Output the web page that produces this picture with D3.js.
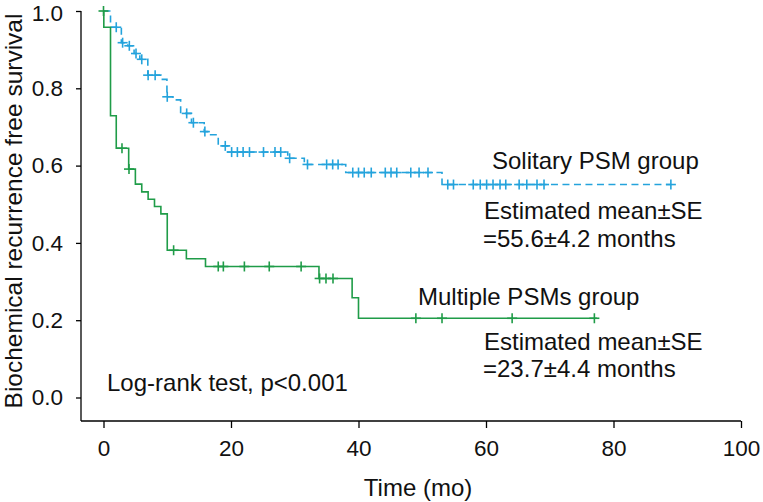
<!DOCTYPE html>
<html><head><meta charset="utf-8">
<script src="https://cdn.jsdelivr.net/npm/d3@7"></script>
<style>
html,body{margin:0;padding:0;background:#fff;}
svg{display:block;font-family:"Liberation Sans",Arial,sans-serif;}
</style></head>
<body><svg id="c" width="763" height="502"></svg>
<script>
// ---- data ----
const xTicks = [0, 20, 40, 60, 80, 100];
const yTicks = [0.0, 0.2, 0.4, 0.6, 0.8, 1.0];

// Solitary PSM group (blue, dashed)
const soloEventTimes = [1.1, 2.8, 3.8, 4.8, 5.7, 6.95, 9.0, 9.95, 10.9, 12.1, 13.8, 15.8, 16.6, 18.0, 19.5, 28.9, 31.5, 38.0, 53.1];
const soloSurv       = [0.958, 0.918, 0.910, 0.890, 0.875, 0.834, 0.823, 0.778, 0.770, 0.735, 0.711, 0.688, 0.680, 0.651, 0.635, 0.619, 0.603, 0.582, 0.551];
const soloCensor     = [2.0, 3.0, 4.05, 5.1, 6.0, 7.0, 8.1, 10.0, 13.05, 14.1, 15.9, 19.1, 20.1, 21.0, 21.9, 22.9, 25.1, 26.9, 27.8, 29.2, 32.0, 35.0, 35.95, 36.8, 39.1, 40.0, 40.9, 42.0, 44.2, 45.1, 46.0, 48.2, 49.5, 50.9, 54.0, 54.9, 58.0, 59.1, 60.1, 61.1, 62.2, 63.1, 65.2, 66.4, 68.0, 69.1, 89.0];
const soloEnd = 89.0;

// Multiple PSMs group (green, solid)
const multiEventTimes = [0.05, 1.1, 2.0, 3.95, 5.0, 6.0, 7.0, 8.0, 9.0, 10.0, 13.0, 16.0, 33.8, 39.0, 40.0];
const multiSurv       = [0.958, 0.729, 0.645, 0.591, 0.552, 0.532, 0.513, 0.494, 0.475, 0.381, 0.359, 0.339, 0.308, 0.258, 0.205];
const multiCensor     = [0.0, 2.9, 4.0, 11.0, 18.0, 18.8, 22.1, 26.0, 31.0, 33.9, 34.9, 36.0, 49.0, 53.1, 64.1, 77.0];
const multiEnd = 77.4;

const soloLabel = "Solitary PSM group";
const soloStat = ["Estimated mean\u00B1SE", "=55.6\u00B14.2 months"];
const multiLabel = "Multiple PSMs group";
const multiStat = ["Estimated mean\u00B1SE", "=23.7\u00B14.4 months"];
const testLabel = "Log-rank test, p<0.001";
const xTitle = "Time (mo)";
const yTitle = "Biochemical recurrence free survival";

// ---- drawing ----
const svg = d3.select("#c");
const x = d3.scaleLinear().domain([0, 100]).range([103.5, 741]);
const y = d3.scaleLinear().domain([0, 1]).range([397.5, 11]);
const axisY = 421, axisX = 81;
const blue = "#24a3dc", green = "#1f9c48";
const ink = "#111";
const FS = 24;

// axes
const gx = svg.append("g").attr("transform", `translate(0,${axisY})`)
  .call(d3.axisBottom(x).tickValues(xTicks).tickFormat(d3.format("d")).tickSize(7).tickPadding(12).tickSizeOuter(0));
gx.select(".domain").remove();
gx.append("line").attr("x1", axisX).attr("x2", x(100)).attr("y1", 0).attr("y2", 0).attr("stroke", "#000").attr("stroke-width", 1.3);

const gy = svg.append("g").attr("transform", `translate(${axisX},0)`)
  .call(d3.axisLeft(y).tickValues(yTicks).tickFormat(d3.format(".1f")).tickSize(5).tickPadding(13).tickSizeOuter(0));
gy.select(".domain").remove();
gy.append("line").attr("x1", 0).attr("x2", 0).attr("y1", y(1)).attr("y2", axisY).attr("stroke", "#000").attr("stroke-width", 1.3);

svg.selectAll(".tick line").attr("stroke", "#000").attr("stroke-width", 1.3);
svg.selectAll(".tick text").attr("font-size", 22.5).attr("fill", ink).attr("font-family", "'Liberation Sans',Arial,sans-serif");
gy.selectAll(".tick text").filter(d => d === 1).attr("dy", "0.44em");

// curves
function stepData(times, surv, end) {
  const pts = [[0, 1]];
  times.forEach((t, i) => pts.push([t, surv[i]]));
  pts.push([end, surv[surv.length - 1]]);
  return pts;
}
function survAt(times, surv, t) {
  let s = 1;
  times.forEach((tt, i) => { if (tt <= t) s = surv[i]; });
  return s;
}
const line = d3.line().x(d => x(d[0])).y(d => y(d[1])).curve(d3.curveStepAfter);

function drawGroup(times, surv, censor, end, color, dash) {
  svg.append("path").datum(stepData(times, surv, end))
    .attr("d", line).attr("fill", "none").attr("stroke", color)
    .attr("stroke-width", 1.6).attr("stroke-dasharray", dash);
  const g = svg.append("g").attr("stroke", color).attr("stroke-width", 1.6);
  censor.forEach(t => {
    const cx = x(t), cy = y(survAt(times, surv, t));
    g.append("line").attr("x1", cx).attr("x2", cx).attr("y1", cy - 5).attr("y2", cy + 5);
    g.append("line").attr("x1", cx - 5).attr("x2", cx + 5).attr("y1", cy).attr("y2", cy);
  });
}
drawGroup(soloEventTimes, soloSurv, soloCensor, soloEnd, blue, "7,4.5");
drawGroup(multiEventTimes, multiSurv, multiCensor, multiEnd, green, null);

// texts
function txt(s, tx, ty, anchor, size) {
  return svg.append("text").attr("x", tx).attr("y", ty).attr("text-anchor", anchor || "start")
    .attr("font-size", size).attr("fill", ink).text(s);
}
txt(soloLabel, 492, 169, "start", FS);
txt(soloStat[0], 484, 219, "start", FS);
txt(soloStat[1], 483, 247, "start", FS);
txt(multiLabel, 418, 305, "start", FS);
txt(multiStat[0], 484, 350, "start", FS);
txt(multiStat[1], 483, 377, "start", FS);
txt(testLabel, 107, 391, "start", FS);
txt(xTitle, 418, 496, "middle", FS);
svg.append("text").attr("transform", "translate(22,211) rotate(-90)").attr("text-anchor", "middle")
  .attr("font-size", 24.5).attr("fill", ink).text(yTitle);
</script></body></html>
